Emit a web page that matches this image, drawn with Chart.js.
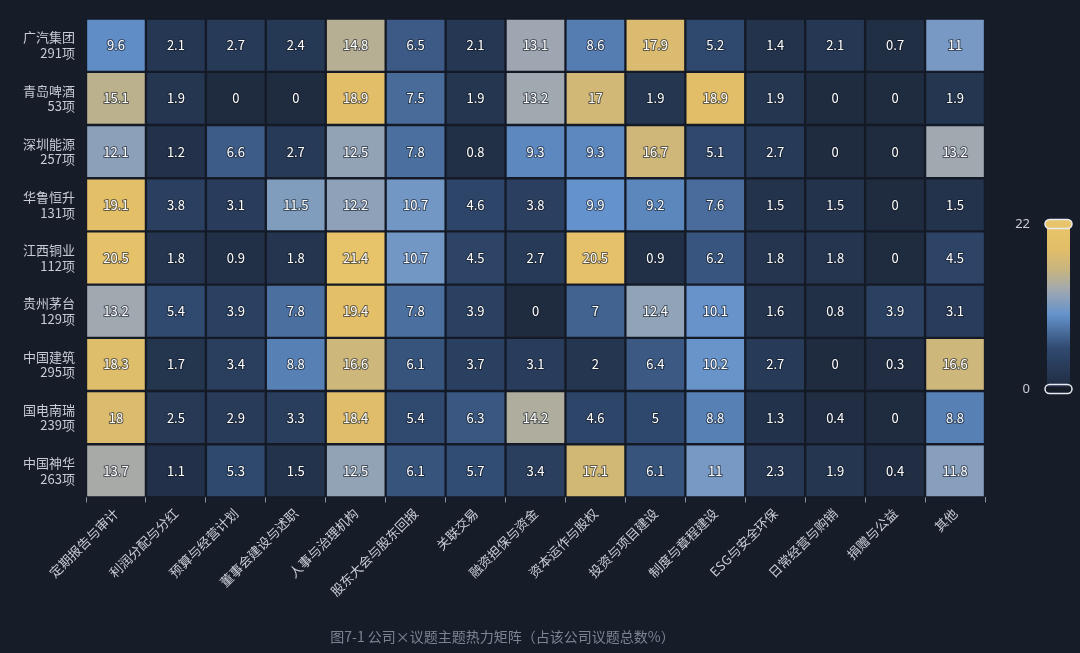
<!DOCTYPE html>
<html><head><meta charset="utf-8">
<script src="https://cdn.jsdelivr.net/npm/chart.js@4.4.1/dist/chart.umd.min.js"></script>
<style>
html,body{margin:0;background:#161c28;}
#wrap{position:relative;width:1080px;height:653px;}
</style></head><body>
<div id="wrap"><canvas id="chart" width="1080" height="653"></canvas></div>
<script>
const companies = ['广汽集团', '青岛啤酒', '深圳能源', '华鲁恒升', '江西铜业', '贵州茅台', '中国建筑', '国电南瑞', '中国神华'];
const counts = ['291项', '53项', '257项', '131项', '112项', '129项', '295项', '239项', '263项'];
const topics = ['定期报告与审计', '利润分配与分红', '预算与经营计划', '董事会建设与述职', '人事与治理机构', '股东大会与股东回报', '关联交易', '融资担保与资金', '资本运作与股权', '投资与项目建设', '制度与章程建设', 'ESG与安全环保', '日常经营与购销', '捐赠与公益', '其他'];
const values = [
  [9.6, 2.1, 2.7, 2.4, 14.8, 6.5, 2.1, 13.1, 8.6, 17.9, 5.2, 1.4, 2.1, 0.7, 11],
  [15.1, 1.9, 0, 0, 18.9, 7.5, 1.9, 13.2, 17, 1.9, 18.9, 1.9, 0, 0, 1.9],
  [12.1, 1.2, 6.6, 2.7, 12.5, 7.8, 0.8, 9.3, 9.3, 16.7, 5.1, 2.7, 0, 0, 13.2],
  [19.1, 3.8, 3.1, 11.5, 12.2, 10.7, 4.6, 3.8, 9.9, 9.2, 7.6, 1.5, 1.5, 0, 1.5],
  [20.5, 1.8, 0.9, 1.8, 21.4, 10.7, 4.5, 2.7, 20.5, 0.9, 6.2, 1.8, 1.8, 0, 4.5],
  [13.2, 5.4, 3.9, 7.8, 19.4, 7.8, 3.9, 0, 7, 12.4, 10.1, 1.6, 0.8, 3.9, 3.1],
  [18.3, 1.7, 3.4, 8.8, 16.6, 6.1, 3.7, 3.1, 2, 6.4, 10.2, 2.7, 0, 0.3, 16.6],
  [18, 2.5, 2.9, 3.3, 18.4, 5.4, 6.3, 14.2, 4.6, 5, 8.8, 1.3, 0.4, 0, 8.8],
  [13.7, 1.1, 5.3, 1.5, 12.5, 6.1, 5.7, 3.4, 17.1, 6.1, 11, 2.3, 1.9, 0.4, 11.8]
];
const vmax = 22;
const stops = [[0, [31, 43, 63]], [0.25, [48, 74, 112]], [0.45, [100, 146, 204]], [0.6, [160, 168, 176]], [0.72, [198, 180, 128]], [0.85, [226, 190, 104]], [1, [232, 196, 106]]];

function colorFor(v) {
  const t = Math.max(0, Math.min(1, v / vmax));
  for (let i = 1; i < stops.length; i++) {
    if (t <= stops[i][0]) {
      const [t0, c0] = stops[i - 1], [t1, c1] = stops[i];
      const f = (t - t0) / (t1 - t0);
      return 'rgb(' + c0.map((c, k) => Math.round(c + (c1[k] - c) * f)).join(',') + ')';
    }
  }
  return 'rgb(232,196,106)';
}

const datasets = values.map((row, r) => ({
  label: companies[r],
  data: row.map((v) => [r, r + 1]),
  vals: row,
  backgroundColor: row.map(colorFor),
  borderColor: '#141a26',
  borderWidth: 1.5,
  borderSkipped: false,
  barPercentage: 1,
  categoryPercentage: 1,
  grouped: false,
}));

// cell values + colour bar
const extras = {
  id: 'extras',
  afterDatasetsDraw(chart) {
    const ctx = chart.ctx;
    ctx.save();
    ctx.font = '13px "Noto Sans CJK SC", sans-serif';
    ctx.textAlign = 'center';
    ctx.textBaseline = 'middle';
    chart.data.datasets.forEach((ds, i) => {
      chart.getDatasetMeta(i).data.forEach((bar, j) => {
        const y = (bar.y + bar.base) / 2;
        ctx.lineWidth = 2;
        ctx.strokeStyle = 'rgba(20,26,38,0.6)';
        ctx.strokeText(String(ds.vals[j]), bar.x, y);
        ctx.fillStyle = '#ffffff';
        ctx.fillText(String(ds.vals[j]), bar.x, y);
      });
    });
    // colour bar
    const x = 1045, w = 27, top = 224, bot = 389;
    const g = ctx.createLinearGradient(0, bot, 0, top);
    stops.forEach(([t, c]) => g.addColorStop(t, 'rgb(' + c.join(',') + ')'));
    ctx.fillStyle = g;
    ctx.fillRect(x + 2, top, w - 4, bot - top);
    const handle = (cy, fill) => {
      ctx.beginPath();
      ctx.roundRect(x, cy - 4.5, w, 9, 4.5);
      if (fill) { ctx.fillStyle = '#e8c46a'; ctx.fill(); }
      ctx.strokeStyle = '#e8ecf2';
      ctx.lineWidth = 1.5;
      ctx.stroke();
    };
    handle(top, true);
    ctx.fillStyle = '#161c28';
    ctx.fillRect(x + 2, bot - 2, w - 4, 8);
    handle(bot, false);
    ctx.fillStyle = '#c8ccd4';
    ctx.font = '13px "Noto Sans", sans-serif';
    ctx.textAlign = 'right';
    ctx.fillText(String(vmax), 1030, top);
    ctx.fillText('0', 1030, bot);
    ctx.restore();
  },
};

const ctx = document.getElementById('chart').getContext('2d');
new Chart(ctx, {
  type: 'bar',
  data: { labels: topics, datasets },
  options: {
    responsive: false,
    animation: false,
    layout: { padding: { top: 6, left: 20, right: 95, bottom: 8 } },
    plugins: {
      legend: { display: false },
      tooltip: { enabled: false },
      title: {
        display: true,
        position: 'bottom',
        text: '图7-1 公司×议题主题热力矩阵（占该公司议题总数%）',
        color: '#7c8494',
        font: { size: 14, weight: 'normal', family: '"Noto Sans CJK SC", sans-serif' },
        padding: { top: 26, bottom: 0 },
      },
    },
    scales: {
      x: {
        offset: true,
        grid: { display: true, offset: true, drawOnChartArea: false, color: '#8a909c', tickLength: 5 },
        border: { display: false },
        ticks: {
          color: '#c8ccd4',
          minRotation: 45,
          maxRotation: 45,
          autoSkip: false,
          font: { size: 13, family: '"Noto Sans CJK SC", sans-serif' },
        },
      },
      y: {
        type: 'linear',
        min: 0,
        max: 9,
        reverse: true,
        afterBuildTicks: (ax) => { ax.ticks = companies.map((c, i) => ({ value: i + 0.5 })); },
        grid: { display: false },
        border: { display: false },
        ticks: {
          color: '#c8ccd4',
          font: { size: 13, family: '"Noto Sans CJK SC", sans-serif' },
          callback: (v) => { const i = Math.floor(v); return [companies[i], counts[i]]; },
        },
      },
    },
  },
  plugins: [extras],
});
</script>
</body></html>
